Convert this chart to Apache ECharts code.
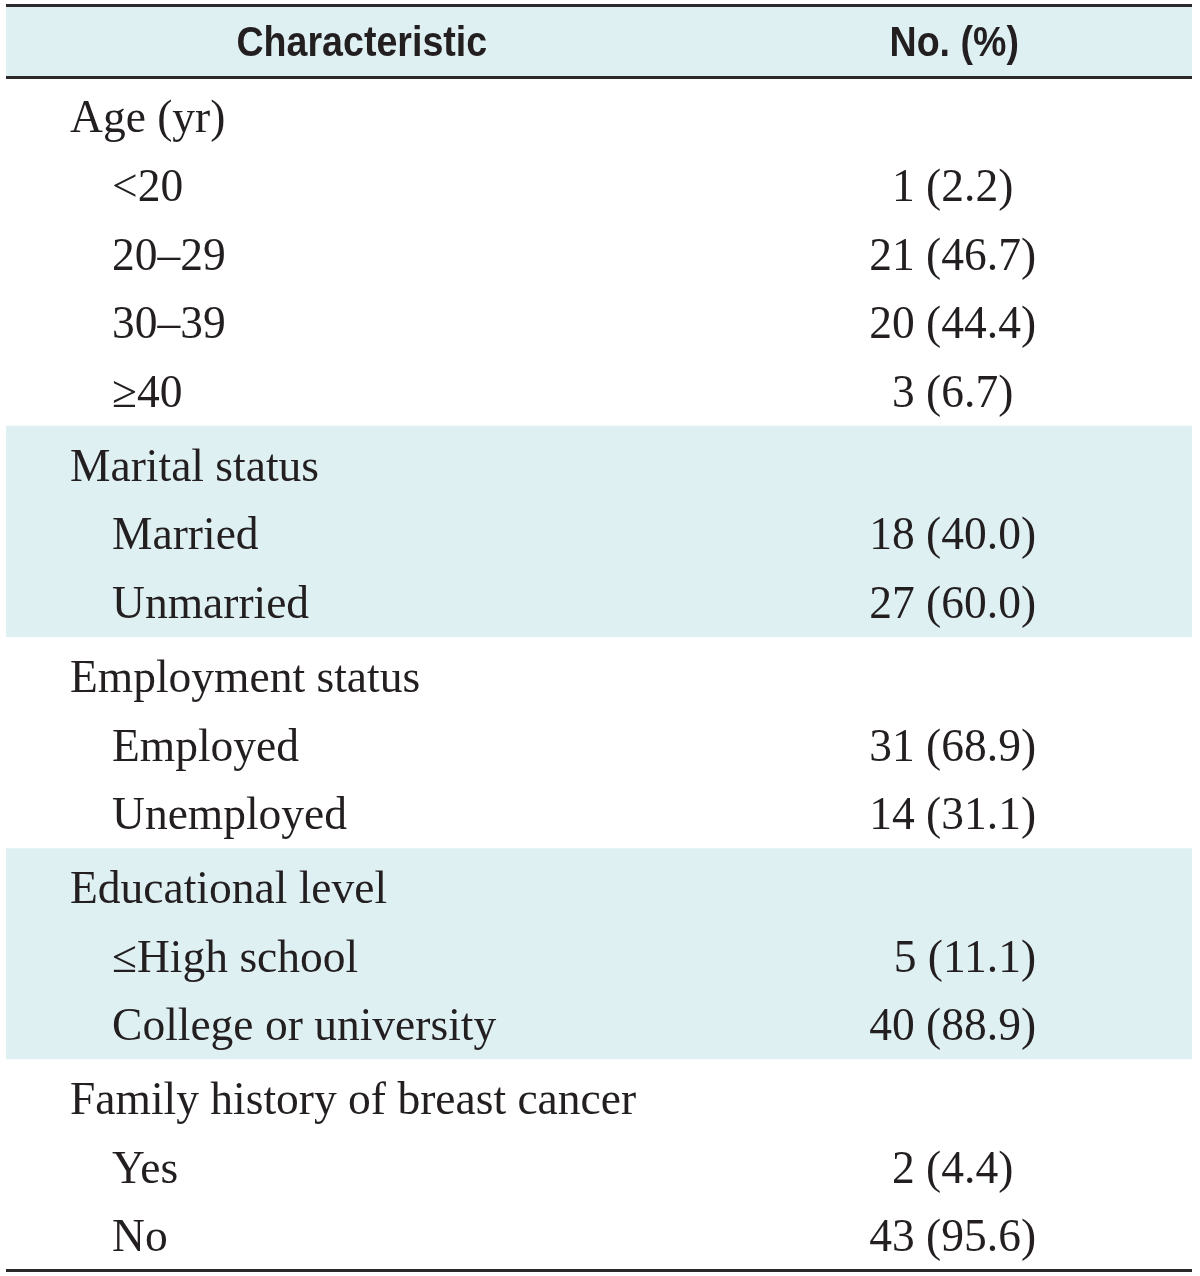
<!DOCTYPE html>
<html><head><meta charset="utf-8">
<script src="https://cdn.jsdelivr.net/npm/echarts@6/dist/echarts.min.js"></script>
<style>html,body{margin:0;padding:0;background:#fff}#c{width:1200px;height:1276px}</style>
</head><body><div id="c"></div>
<script>
// ---- data ----
const headers = ['Characteristic', 'No. (%)'];
const groupNames = ['Age (yr)', 'Marital status', 'Employment status', 'Educational level', 'Family history of breast cancer'];
const ageCats = ['<20', '20–29', '30–39', '≥40'];
const ageCounts = [1, 21, 20, 3];
const agePct = [2.2, 46.7, 44.4, 6.7];
const maritalCats = ['Married', 'Unmarried'];
const maritalCounts = [18, 27];
const maritalPct = [40.0, 60.0];
const employCats = ['Employed', 'Unemployed'];
const employCounts = [31, 14];
const employPct = [68.9, 31.1];
const eduCats = ['≤High school', 'College or university'];
const eduCounts = [5, 40];
const eduPct = [11.1, 88.9];
const familyCats = ['Yes', 'No'];
const familyCounts = [2, 43];
const familyPct = [4.4, 95.6];
const shadedGroups = [1, 3];

// ---- layout (row units) ----
const HEADER_H = 1.05, ROW_H = 1, PAD = 0.04;
const groupCats = [ageCats, maritalCats, employCats, eduCats, familyCats];
const groupCounts = [ageCounts, maritalCounts, employCounts, eduCounts, familyCounts];
const groupPct = [agePct, maritalPct, employPct, eduPct, familyPct];

const rows = [];
const bands = [];
let y = HEADER_H;
groupNames.forEach((g, gi) => {
  const start = y;
  y += PAD;
  rows.push({ y: y + ROW_H / 2, label: g, level: 0 });
  y += ROW_H;
  groupCats[gi].forEach((c, ci) => {
    rows.push({ y: y + ROW_H / 2, label: c, level: 1, count: groupCounts[gi][ci], pct: groupPct[gi][ci] });
    y += ROW_H;
  });
  y += PAD;
  bands.push({ start, end: y, shaded: shadedGroups.includes(gi) });
});
const TOTAL = y;

const X_GROUP = 0.054, X_ITEM = 0.0894, X_NUM_RIGHT = 0.8685;
const X_HEAD1 = 0.300, X_HEAD2 = 0.7995;
const SERIF = '"Liberation Serif","DejaVu Serif",serif';
const SANS = '"Liberation Sans","Open Sans",sans-serif';
const FS = 45.5, HFS = 42;
const INK = '#231f20';
const BAND = '#dff0f3';
const TEXT_DY = 6;

const chart = echarts.init(document.getElementById('c'), null, { renderer: 'canvas' });
chart.setOption({
  animation: false,
  grid: { left: 6, right: 8, top: 5.5, bottom: 5.5 },
  xAxis: { type: 'value', min: 0, max: 1, show: false },
  yAxis: { type: 'value', min: 0, max: TOTAL, inverse: true, show: false },
  series: [
    {
      type: 'custom', z: 1,
      data: [[0, HEADER_H, 1]].concat(bands.map(b => [b.start, b.end, b.shaded ? 1 : 0])),
      renderItem: (params, api) => {
        if (!api.value(2)) return null;
        const p0 = api.coord([0, api.value(0)]);
        const p1 = api.coord([1, api.value(1)]);
        return { type: 'rect', shape: { x: p0[0], y: p0[1], width: p1[0] - p0[0], height: p1[1] - p0[1] }, style: { fill: BAND } };
      }
    },
    {
      type: 'custom', z: 3,
      data: [[0], [HEADER_H], [TOTAL]],
      renderItem: (params, api) => {
        const p0 = api.coord([0, api.value(0)]);
        const p1 = api.coord([1, api.value(0)]);
        return { type: 'line', shape: { x1: p0[0], y1: p0[1], x2: p1[0], y2: p1[1] }, style: { stroke: '#2a2a2a', lineWidth: 3 } };
      }
    },
    {
      type: 'custom', z: 4,
      data: [[X_HEAD1, HEADER_H / 2, 0], [X_HEAD2, HEADER_H / 2, 1]],
      renderItem: (params, api) => {
        const p = api.coord([api.value(0), api.value(1)]);
        return { type: 'text', x: p[0], y: p[1] + 3, scaleX: 0.895, style: { text: headers[api.value(2)], font: 'bold ' + HFS + 'px ' + SANS, fill: INK, align: 'center', verticalAlign: 'middle' } };
      }
    },
    {
      type: 'custom', z: 4,
      data: rows.map((r, i) => [r.y, i]),
      renderItem: (params, api) => {
        const r = rows[api.value(1)];
        const p = api.coord([r.level === 0 ? X_GROUP : X_ITEM, api.value(0)]);
        const children = [{ type: 'text', x: p[0], y: p[1] + TEXT_DY, style: { text: r.label, font: FS + 'px ' + SERIF, fill: INK, align: 'left', verticalAlign: 'middle' } }];
        if (r.level === 1) {
          const q = api.coord([X_NUM_RIGHT, api.value(0)]);
          const shift = r.pct < 10 ? FS * 0.5 : 0;
          children.push({ type: 'text', x: q[0] - shift, y: q[1] + TEXT_DY, style: { text: r.count + ' (' + r.pct.toFixed(1) + ')', font: FS + 'px ' + SERIF, fill: INK, align: 'right', verticalAlign: 'middle' } });
        }
        return { type: 'group', children };
      }
    }
  ]
});
</script></body></html>
